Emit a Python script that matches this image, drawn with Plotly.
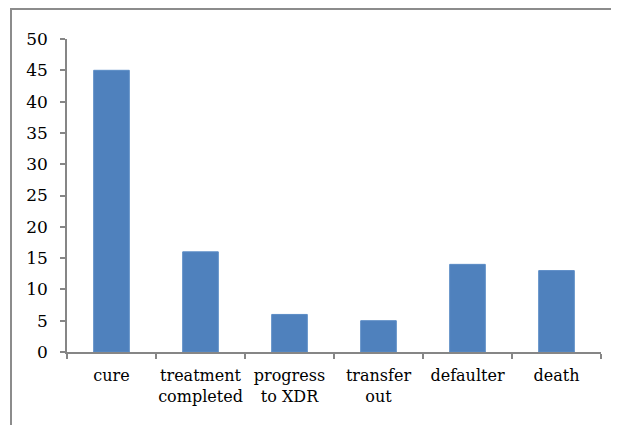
import plotly.graph_objects as go

categories = ["cure", "treatment<br>completed", "progress<br>to XDR", "transfer<br>out", "defaulter", "death"]
values = [45, 16, 6, 5, 14, 13]
y_ticks = [0, 5, 10, 15, 20, 25, 30, 35, 40, 45, 50]

W, H = 619, 425
OFF = 8  # page offset of the figure in the screenshot
L, R, T, B = 67 - OFF, W + OFF - 601, 39 - OFF, H + OFF - 352
FONT = "DejaVu Serif"
FS = 16

fig = go.Figure(go.Bar(
    x=categories, y=values,
    marker=dict(color="#4F81BD", line=dict(color="#5B8CC6", width=1)),
    width=0.4,
))

fig.update_layout(
    width=W, height=H,
    margin=dict(l=L, r=R, t=T, b=B, autoexpand=False),
    paper_bgcolor="white", plot_bgcolor="white",
    showlegend=False,
    font=dict(family=FONT, size=FS, color="black"),
)
fig.update_xaxes(
    showline=True, linecolor="#868686", linewidth=1.5,
    ticks="outside", tickson="boundaries", ticklen=5, tickcolor="#868686", tickwidth=1.5,
    showgrid=False, tickangle=0, tickfont=dict(family=FONT, size=FS, color="black"),
    ticklabelstandoff=8,
)
fig.update_yaxes(
    range=[0, 50], tickvals=y_ticks,
    showline=True, linecolor="#868686", linewidth=1.5,
    ticks="outside", ticklen=5, tickcolor="#868686", tickwidth=1.5,
    showgrid=False, zeroline=False, tickfont=dict(family=FONT, size=FS + 1, color="black"),
    ticklabelstandoff=9,
)
# chart frame (top and left edges visible)
pw = W - L - R
ph = H - T - B
x0 = (11 - OFF - L) / pw
x1 = (W + 20 - L) / pw
ytop = (H - B - (9 - OFF)) / ph
ybot = (H - B - (H + 20)) / ph
fig.add_shape(type="rect", xref="paper", yref="paper", x0=x0, x1=x1, y0=ybot, y1=ytop,
              line=dict(color="#8C8C8C", width=2), layer="below")

fig.write_html("out.html")
